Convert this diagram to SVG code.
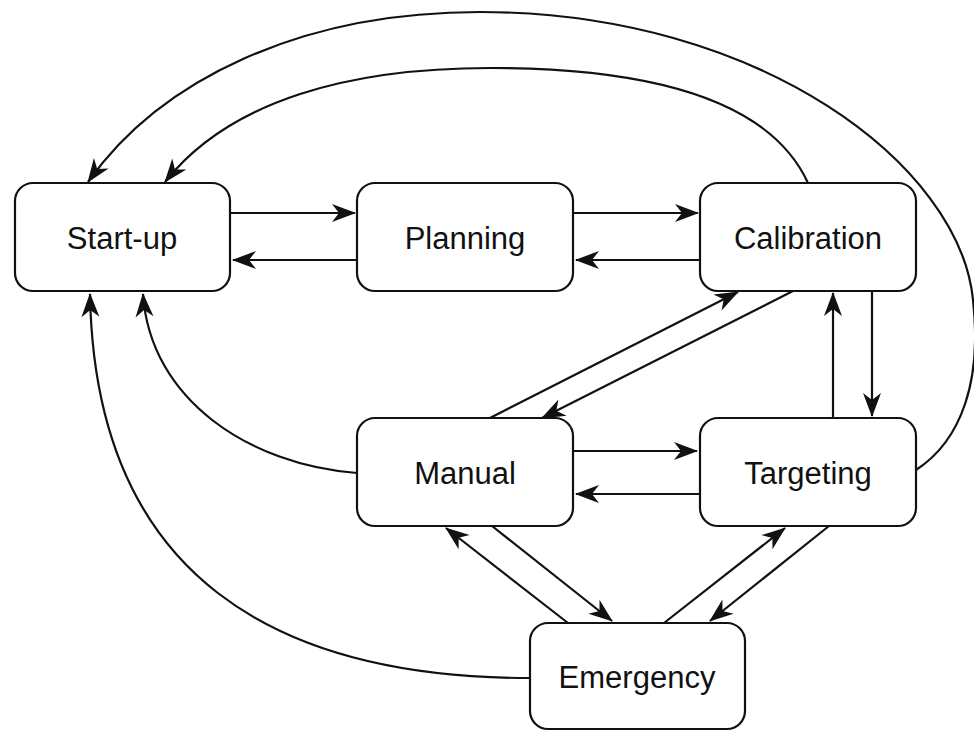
<svg xmlns="http://www.w3.org/2000/svg" width="974" height="731" viewBox="0 0 974 731">
<style>
.box{fill:#fff;stroke:#111;stroke-width:2.2}
.lbl{font-family:"Liberation Sans",Arial,Helvetica,sans-serif;font-size:31px;fill:#111;text-anchor:middle}
.c{fill:none;stroke:#111;stroke-width:2.2;marker-end:url(#arr)}
</style>
<defs>
<marker id="arr" markerUnits="userSpaceOnUse" markerWidth="24" markerHeight="18" refX="23" refY="9" orient="auto" overflow="visible">
<path d="M0,0 L24,9 L0,18 L7,9 Z" fill="#111"/>
</marker>
</defs>
<rect width="974" height="731" fill="#fff"/>
<g id="connectors">
<path class="c" d="M230,213 L355,213"/>
<path class="c" d="M357,260 L233,260"/>
<path class="c" d="M573,213 L698,213"/>
<path class="c" d="M700,260 L576,260"/>
<path class="c" d="M490,418 L738,292"/>
<path class="c" d="M793,291 L542,418"/>
<path class="c" d="M833,418 L833,293"/>
<path class="c" d="M872,291 L872,416"/>
<path class="c" d="M573,451 L697,451"/>
<path class="c" d="M700,494 L576,494"/>
<path class="c" d="M568,623 L446,528"/>
<path class="c" d="M492,526 L612,621"/>
<path class="c" d="M664,623 L785,528"/>
<path class="c" d="M829,526 L710,621"/>
<path class="c" d="M357,473 C250,465 150,400 143,294"/>
<path class="c" d="M530,678 C280,678 95,580 90,294"/>
<path class="c" d="M808,183 C770,100 650,68 490,68 C350,68 230,100 165,182"/>
<path class="c" d="M916,470 C962,440 982,380 973,300 C960,165 760,12 480,12 C300,12 160,80 88,182"/>
</g>
<g id="startup"><rect class="box" x="15" y="183" width="215" height="108" rx="18"/><text class="lbl" x="122" y="249">Start-up</text></g>
<g id="planning"><rect class="box" x="357" y="183" width="216" height="108" rx="18"/><text class="lbl" x="465" y="249">Planning</text></g>
<g id="calibration"><rect class="box" x="700" y="183" width="216" height="108" rx="18"/><text class="lbl" x="808" y="249">Calibration</text></g>
<g id="manual"><rect class="box" x="357" y="418" width="216" height="108" rx="18"/><text class="lbl" x="465" y="484">Manual</text></g>
<g id="targeting"><rect class="box" x="700" y="418" width="216" height="108" rx="18"/><text class="lbl" x="808" y="484">Targeting</text></g>
<g id="emergency"><rect class="box" x="530" y="623" width="215" height="106" rx="18"/><text class="lbl" x="637" y="688">Emergency</text></g>
</svg>
